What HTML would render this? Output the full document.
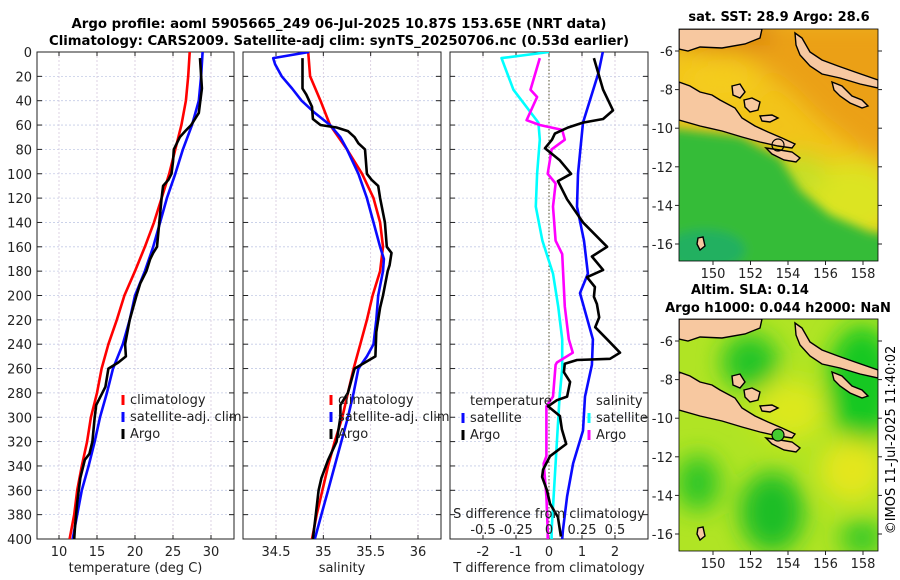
<!DOCTYPE html>
<html><head><meta charset="utf-8">
<style>
html,body{margin:0;padding:0;background:#fff;}
svg{display:block;font-family:"DejaVu Sans","Liberation Sans",sans-serif;}
</style></head>
<body>
<svg id="fig" width="900" height="580" viewBox="0 0 900 580" xmlns="http://www.w3.org/2000/svg">
<defs>
  <filter id="blur8" x="-50%" y="-50%" width="200%" height="200%"><feGaussianBlur stdDeviation="12"/></filter>
  <filter id="blur4" x="-50%" y="-50%" width="200%" height="200%"><feGaussianBlur stdDeviation="5"/></filter>
  <clipPath id="clipTop"><rect x="679" y="29" width="199" height="232"/></clipPath>
  <clipPath id="clipBot"><rect x="679" y="319" width="199" height="232"/></clipPath>
  <clipPath id="cp1"><rect x="37" y="52" width="197" height="487"/></clipPath>
  <clipPath id="cp2"><rect x="243" y="52" width="198" height="487"/></clipPath>
  <clipPath id="cp3"><rect x="450" y="52" width="198" height="487"/></clipPath>
  <g id="land">
    <path d="M679,29 L762,29 L760,38 L745,44 L722,48 L700,47 L688,51 L679,49 Z"/>
    <path d="M679,82 L690,86 L700,92 L712,95 L720,100 L735,108 L742,118 L755,126 L768,132 L782,138 L795,144 L792,148 L778,146 L760,142 L742,137 L722,131 L700,126 L679,120 Z"/>
    <path d="M795,33 L802,38 L810,52 L822,60 L838,66 L855,72 L878,80 L878,88 L860,84 L840,78 L822,74 L810,66 L800,55 L796,45 Z"/>
    <path d="M832,82 L842,86 L852,96 L862,100 L868,106 L862,108 L850,103 L840,96 L834,90 Z"/>
    <path d="M766,148 L780,150 L792,152 L800,158 L796,162 L784,160 L772,154 Z"/>
    <path d="M744,100 L752,98 L760,102 L758,110 L750,112 L745,107 Z"/>
    <path d="M732,86 L740,84 L745,92 L740,98 L733,95 Z"/>
    <path d="M760,116 L772,115 L778,118 L770,122 L762,121 Z"/>
    <path d="M698,238 L703,237 L705,246 L700,250 L697,244 Z"/>
  </g>
</defs>

<!-- Titles -->
<text x="339" y="28" text-anchor="middle" font-size="13" font-weight="bold" textLength="535" lengthAdjust="spacingAndGlyphs">Argo profile: aoml 5905665_249 06-Jul-2025 10.87S 153.65E (NRT data)</text>
<text x="339" y="45" text-anchor="middle" font-size="13" font-weight="bold" textLength="580" lengthAdjust="spacingAndGlyphs">Climatology: CARS2009. Satellite-adj clim: synTS_20250706.nc (0.53d earlier)</text>

<g id="axes"></g>

<!-- Maps -->
<g>
  <text x="779" y="21" text-anchor="middle" font-size="13" font-weight="bold">sat. SST: 28.9 Argo: 28.6</text>
  <g clip-path="url(#clipTop)">
    <rect x="679" y="29" width="199" height="232" fill="#f2c41a"/>
    <g filter="url(#blur8)">
      <path d="M700,20 L900,20 L900,170 L860,150 L820,120 L790,90 L750,60 L700,55 Z" fill="#eba018"/>
      <rect x="670" y="20" width="100" height="25" fill="#d88010"/>
      <ellipse cx="720" cy="80" rx="40" ry="25" fill="#f4cc1c"/>
      <ellipse cx="850" cy="200" rx="50" ry="40" fill="#dce422"/>
      <ellipse cx="800" cy="175" rx="25" ry="22" fill="#c4e028"/>
    </g>
    <g filter="url(#blur4)">
      <path d="M670,128 L740,136 L780,158 L800,190 L830,215 L870,232 L900,236 L900,300 L670,300 Z" fill="#34bc38"/>
      <ellipse cx="705" cy="250" rx="40" ry="20" fill="#20b060"/>
    </g>
    <use href="#land" fill="#f7c8a0" stroke="#000" stroke-width="1.4"/>
    <circle cx="778" cy="145" r="6" fill="none" stroke="#000" stroke-width="1.2"/>
  </g>
  <rect x="679" y="29" width="199" height="232" fill="none" stroke="#000" stroke-width="0.8"/>
  <g id="mapTicksTop"></g>
</g>

<g>
  <text x="750" y="294" text-anchor="middle" font-size="13" font-weight="bold">Altim. SLA: 0.14</text>
  <text x="778" y="312" text-anchor="middle" font-size="13" font-weight="bold">Argo h1000: 0.044 h2000: NaN</text>
  <g clip-path="url(#clipBot)">
    <rect x="679" y="319" width="199" height="232" fill="#b0e424"/>
    <g filter="url(#blur8)">
      <ellipse cx="750" cy="362" rx="28" ry="28" fill="#22c428"/>
      <ellipse cx="862" cy="385" rx="35" ry="60" fill="#14c822"/>
      <ellipse cx="790" cy="410" rx="35" ry="30" fill="#dce81e"/>
      <ellipse cx="852" cy="470" rx="32" ry="32" fill="#e4e61c"/>
      <ellipse cx="698" cy="483" rx="22" ry="28" fill="#2ec628"/>
      <ellipse cx="772" cy="512" rx="32" ry="40" fill="#1cbe28"/>
      <ellipse cx="862" cy="538" rx="22" ry="18" fill="#30c828"/>
    </g>
    <use href="#land" transform="translate(0,290)" fill="#f7c8a0" stroke="#000" stroke-width="1.4"/>
    <circle cx="778" cy="435" r="6" fill="#44cc30" stroke="#000" stroke-width="1.2"/>
  </g>
  <rect x="679" y="319" width="199" height="232" fill="none" stroke="#000" stroke-width="0.8"/>
  <g id="mapTicksBot"></g>
</g>

<text transform="translate(895,440) rotate(-90)" text-anchor="middle" font-size="13">©IMOS 11-Jul-2025 11:40:02</text>

<script>
// ---- data ----
const pTick = [0,20,40,60,80,100,120,140,160,180,200,220,240,260,280,300,320,340,360,380,400];
const tTicks = [10,15,20,25,30];
const sTicks = [34.5,35,35.5,36];
const dtTicks = [-2,-1,0,1,2];
const dsTicks = [-0.5,-0.25,0,0.25,0.5];
const dsTickLabels = ["-0.5","-0.25","0","0.25","0.5"];

const pClim = [0,20,40,60,80,100,120,140,160,180,200,220,240,260,280,300,320,340,360,380,400];
const tClim = [27.2,27.0,26.7,26.1,25.3,24.5,23.5,22.5,21.3,20.0,18.6,17.6,16.5,15.6,15.0,14.2,13.7,13.0,12.4,12.0,11.4];
const tSat  = [28.9,28.7,28.4,27.5,26.3,25.3,24.2,23.3,22.4,21.3,20.0,19.3,18.4,17.1,16.3,15.4,14.7,13.9,13.0,12.4,11.8];
const sClim = [34.84,34.86,34.97,35.07,35.25,35.41,35.53,35.60,35.63,35.60,35.52,35.46,35.39,35.32,35.26,35.20,35.12,35.05,34.99,34.93,34.88];

const pSatS = [0,5,10,20,30,40,50,60,70,80,100,120,140,160,170,180,200,220,240,250,260,280,300,320,340,360,380,400];
const sSat  = [34.85,34.47,34.49,34.56,34.67,34.77,34.91,35.07,35.18,35.25,35.37,35.46,35.53,35.60,35.64,35.63,35.58,35.56,35.53,35.46,35.37,35.32,35.26,35.19,35.12,35.05,34.98,34.91];

const pArgoT = [5,30,50,55,60,65,70,80,90,100,105,110,120,140,160,165,170,180,190,200,220,240,250,255,260,275,290,300,320,330,335,350,370,390,400];
const tArgo  = [28.55,28.8,28.4,27.9,27.4,26.6,25.9,25.1,25.0,24.8,24.4,23.7,23.5,23.2,22.9,22.4,22.0,21.5,20.7,20.2,19.3,18.7,18.8,17.8,16.5,16.1,14.9,14.7,14.4,14.0,13.4,12.8,12.4,12.1,12.0];

const pArgoS = [5,30,35,45,55,60,62,65,70,75,80,100,105,110,120,140,160,165,175,180,200,210,230,250,255,260,280,290,300,320,335,350,360,380,400];
const sArgo  = [34.78,34.78,34.82,34.88,34.89,34.97,35.14,35.26,35.33,35.37,35.44,35.46,35.51,35.58,35.60,35.65,35.67,35.72,35.70,35.68,35.63,35.60,35.56,35.55,35.44,35.33,35.26,35.18,35.18,35.14,35.05,34.98,34.95,34.92,34.89];

const pDSsat = [0,5,31,58,72,100,127,155,182,209,236,260,283,338,393,400];
const dsSat  = [0.0,-0.36,-0.27,-0.08,-0.07,-0.09,-0.10,-0.05,0.03,0.07,0.10,0.10,0.08,0.05,0.02,0.02];

const pDSargo = [5,31,37,56,60,64,72,80,100,108,127,155,166,209,236,247,255,257,283,291,332,338,365,393,400];
const dsArgo  = [-0.07,-0.14,-0.09,-0.17,-0.07,0.10,0.12,0.02,-0.01,0.05,0.03,0.05,0.10,0.12,0.15,0.18,0.06,0.05,0.03,-0.02,-0.02,-0.04,-0.02,-0.01,-0.01];

const pDTsat = [0,17,58,100,127,155,182,198,236,257,283,311,338,365,393,400];
const dtSat  = [1.63,1.50,1.03,0.88,0.85,1.06,1.18,0.94,1.33,1.30,1.09,1.03,0.73,0.55,0.42,0.40];

const pDTargo = [5,31,48,55,58,62,67,72,79,89,100,106,121,140,160,168,179,185,193,201,207,218,226,236,247,252,253,256,263,271,283,286,291,299,310,322,332,343,349,360,371,382,398];
const dtArgo  = [1.36,1.64,1.94,1.64,1.03,0.58,0.18,0.09,-0.12,0.33,0.67,0.27,0.55,1.03,1.76,1.30,1.64,1.15,1.39,1.36,1.45,1.52,1.40,1.76,2.15,1.85,0.85,0.48,0.45,0.64,0.55,0.24,-0.03,0.33,0.39,0.52,0.03,-0.18,-0.21,-0.06,0.03,0.27,0.36];

const lonTicks = [150,152,154,156,158];
const latTicks = [-6,-8,-10,-12,-14,-16];

// ---- helpers ----
const NS = "http://www.w3.org/2000/svg";
const Y0 = 52, Y1 = 539;
function yP(p){ return Y0 + p*(Y1-Y0)/400; }
function lin(d0,d1,r0,r1){ return v => r0 + (v-d0)*(r1-r0)/(d1-d0); }
const xT  = lin(10,30,59,211);
const xS  = lin(34.5,36,276,418);
const xDT = lin(-2,2,483,615);
const xDS = lin(-0.5,0.5,483,615);
const xLon = lin(150,158,713,863);
const yLat = lin(-6,-16,51,244);

const root = document.getElementById('axes');
function mk(tag, attrs, parent){
  const e = document.createElementNS(NS, tag);
  for (const k in attrs) e.setAttribute(k, attrs[k]);
  (parent||root).appendChild(e);
  return e;
}
function txt(x,y,s,anchor,size,parent){
  const t = mk('text',{x:x,y:y,'text-anchor':anchor||'middle','font-size':size||13,fill:'#222'},parent);
  t.textContent = s;
  return t;
}

function panel(name, x0, x1, xticks, xscale, xlabels, xtitle, clip){
  const g = mk('g',{});
  
  
  pTick.forEach(p => {
    const l = mk('line',{x1:x0,x2:x1,y1:yP(p),y2:yP(p),stroke:'#c4cbe6','stroke-width':0.8,'stroke-dasharray':'2,2'},g);
    
    
  });
  xticks.forEach((v,i) => {
    const x = xscale(v);
    const l = mk('line',{x1:x,x2:x,y1:Y0,y2:Y1,stroke:'#d4c8dc','stroke-width':0.8,'stroke-dasharray':'2,2'},g);
    
    
    mk('line',{x1:x,x2:x,y1:Y1,y2:Y1-4,stroke:'#222'},g);
    mk('line',{x1:x,x2:x,y1:Y0,y2:Y0+4,stroke:'#222'},g);
    const t = txt(x, 556, xlabels[i], 'middle', 13, g);
    
    
  });
  pTick.forEach(p => {
    mk('line',{x1:x0,x2:x0+5,y1:yP(p),y2:yP(p),stroke:'#222'},g);
    mk('line',{x1:x1,x2:x1-5,y1:yP(p),y2:yP(p),stroke:'#222'},g);
  });
  const fr = mk('rect',{x:x0,y:Y0,width:x1-x0,height:Y1-Y0,fill:'none',stroke:'#222','stroke-width':1},g);
  
  
  const tt = txt((x0+x1)/2, 572, xtitle, 'middle', 13, g);
  
  
  return g;
}
function series(name, parent, ps, vs, xs, color, clip){
  const pts = ps.map((p,i) => xs(vs[i]).toFixed(1)+','+yP(p).toFixed(1)).join(' ');
  const l = mk('polyline',{points:pts,fill:'none',stroke:color,'stroke-width':2.6,'stroke-linejoin':'round','clip-path':'url(#'+clip+')'},parent);
  
  
}
function legend(parent, x, y, items){
  items.forEach((it,i) => {
    const yy = y + i*17;
    mk('line',{x1:x,x2:x,y1:yy-9,y2:yy+1,stroke:it[1],'stroke-width':3},parent);
    const t = txt(x+7, yy, it[0], 'start', 13, parent);
    
    
  });
}

// Panel 1: temperature
const g1 = panel('temperature-panel', 37, 234, tTicks, xT, tTicks.map(String), 'temperature (deg C)', 'cp1');
pTick.forEach(p => {
  const t = txt(32, yP(p)+5, String(p), 'end', 13, g1);
  
  
});
series('temp-climatology-line', g1, pClim, tClim, xT, '#ff0000', 'cp1');
series('temp-satellite-line', g1, pClim, tSat, xT, '#0a0aff', 'cp1');
series('temp-argo-line', g1, pArgoT, tArgo, xT, '#000', 'cp1');
legend(g1, 123, 404, [['climatology','#ff0000'],['satellite-adj. clim','#0a0aff'],['Argo','#000']]);

// Panel 2: salinity
const g2 = panel('salinity-panel', 243, 441, sTicks, xS, sTicks.map(String), 'salinity', 'cp2');
series('sal-climatology-line', g2, pClim, sClim, xS, '#ff0000', 'cp2');
series('sal-satellite-line', g2, pSatS, sSat, xS, '#0a0aff', 'cp2');
series('sal-argo-line', g2, pArgoS, sArgo, xS, '#000', 'cp2');
legend(g2, 331, 404, [['climatology','#ff0000'],['satellite-adj. clim','#0a0aff'],['Argo','#000']]);

// Panel 3: differences
const g3 = panel('difference-panel', 450, 648, dtTicks, xDT, dtTicks.map(String), 'T difference from climatology', 'cp3');
mk('line',{x1:xDT(0),x2:xDT(0),y1:Y0,y2:Y1,stroke:'#555530','stroke-width':1,'stroke-dasharray':'1.5,2'},g3);
series('sal-diff-satellite-line', g3, pDSsat, dsSat, xDS, '#00ffff', 'cp3');
series('sal-diff-argo-line', g3, pDSargo, dsArgo, xDS, '#ff00ff', 'cp3');
series('temp-diff-satellite-line', g3, pDTsat, dtSat, xDT, '#0a0aff', 'cp3');
series('temp-diff-argo-line', g3, pDTargo, dtArgo, xDT, '#000', 'cp3');
const st = txt(549, 518, 'S difference from climatology', 'middle', 13, g3);


dsTicks.forEach((v,i) => {
  const t = txt(xDS(v), 534, dsTickLabels[i], 'middle', 13, g3);
  
  
});
const lt = txt(470, 405, 'temperature', 'start', 13, g3);


legend(g3, 463, 422, [['satellite','#0a0aff'],['Argo','#000']]);
const ls = txt(596, 405, 'salinity', 'start', 13, g3);


legend(g3, 589, 422, [['satellite','#00ffff'],['Argo','#ff00ff']]);

// map ticks
function mapTicks(id, off){
  const g = document.getElementById(id);
  lonTicks.forEach(v => {
    const x = xLon(v);
    mk('line',{x1:x,x2:x,y1:261+off,y2:265+off,stroke:'#222'},g);
    const t = txt(x, 278+off, String(v), 'middle', 13, g);
    
    
  });
  latTicks.forEach(v => {
    const y = yLat(v)+off;
    mk('line',{x1:675,x2:679,y1:y,y2:y,stroke:'#222'},g);
    mk('line',{x1:878,x2:882,y1:y,y2:y,stroke:'#222'},g);
    const t = txt(673, y+5, String(v), 'end', 13, g);
    
    
  });
}
mapTicks('mapTicksTop', 0);
mapTicks('mapTicksBot', 290);
</script>
</svg>
</body></html>
